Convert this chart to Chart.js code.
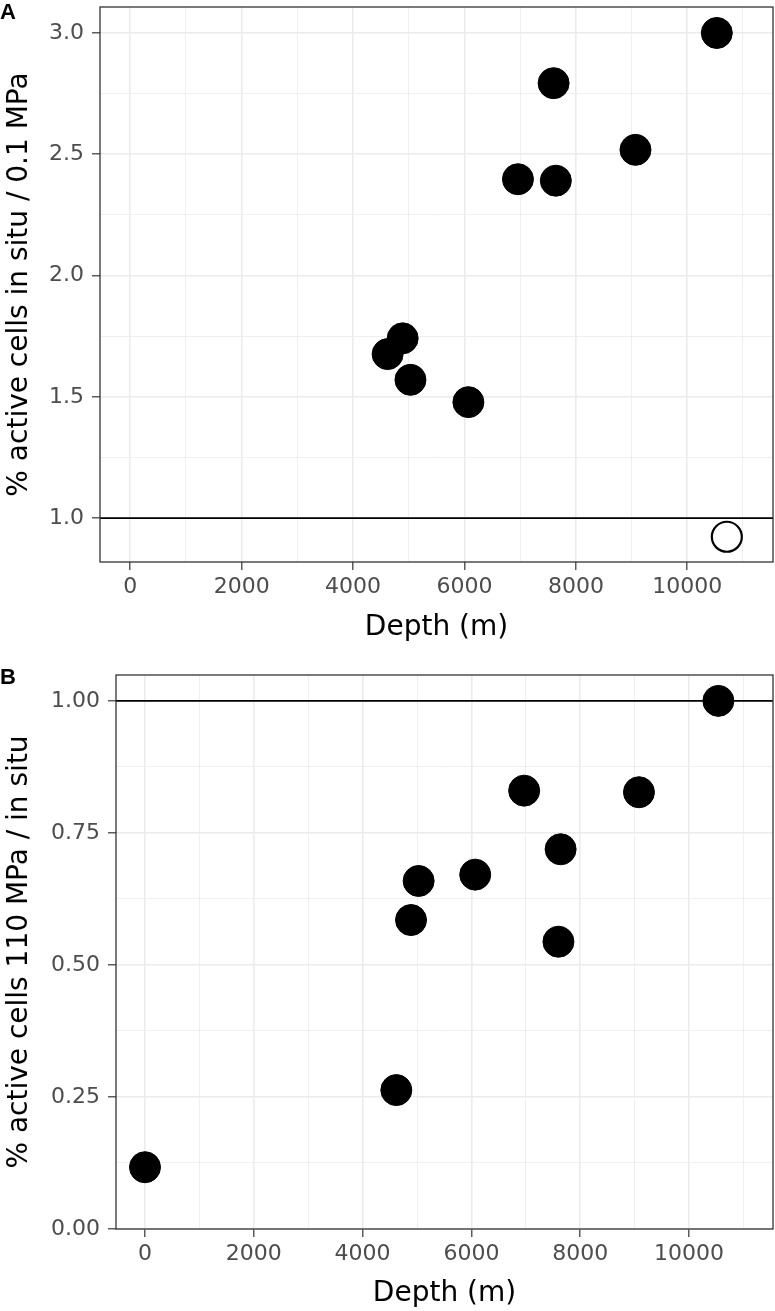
<!DOCTYPE html>
<html>
<head>
<meta charset="utf-8">
<script src="https://cdn.jsdelivr.net/npm/chart.js@4.4.0/dist/chart.umd.min.js"></script>
<style>
  body { margin: 0; background: #fff; }
  #wrap { position: relative; width: 775px; height: 1311px; }
  canvas { position: absolute; left: 0; }
  .tag { position: absolute; left: 0px; font: bold 22px "Liberation Sans", Arial, sans-serif; line-height: 22px; }
</style>
</head>
<body>
<div id="wrap">
  <canvas id="chartA" width="775" height="645" style="top:0px"></canvas>
  <canvas id="chartB" width="775" height="666" style="top:645px"></canvas>
  <div class="tag" style="top:1px">A</div>
  <div class="tag" style="top:666px">B</div>
</div>
<script>
// ---------- data ----------
// panel A : ratio in situ / 0.1 MPa
const depthA = [4620, 4890, 5030, 6070, 6960, 7600, 7640, 9070, 10530];
const ratioA = [1.676, 1.741, 1.570, 1.478, 2.397, 2.793, 2.391, 2.518, 3.0];
const depthAOpen = [10710];
const ratioAOpen = [0.923];

// panel B : ratio 110 MPa / in situ
const depthB = [0, 4620, 4890, 5030, 6070, 6970, 7600, 7640, 9080, 10540];
const ratioB = [0.117, 0.263, 0.585, 0.659, 0.671, 0.830, 0.544, 0.719, 0.827, 1.0];

// ticks (major = labelled, others = minor grid)
const xTicks = [0, 1000, 2000, 3000, 4000, 5000, 6000, 7000, 8000, 9000, 10000, 11000];
const xMajor = [0, 2000, 4000, 6000, 8000, 10000];
const yTicksA = [1.0, 1.25, 1.5, 1.75, 2.0, 2.25, 2.5, 2.75, 3.0];
const yMajorA = [1.0, 1.5, 2.0, 2.5, 3.0];
const yTicksB = [0, 0.125, 0.25, 0.375, 0.5, 0.625, 0.75, 0.875, 1.0];
const yMajorB = [0, 0.25, 0.5, 0.75, 1.0];

const refLine = 1;
const FONT = '"DejaVu Sans", Arial, sans-serif';

// ---------- plugins ----------
const hlinePlugin = {
  id: 'hline',
  beforeDatasetsDraw(chart) {
    const {ctx, chartArea, scales} = chart;
    const y = scales.y.getPixelForValue(refLine);
    ctx.save();
    ctx.strokeStyle = '#000';
    ctx.lineWidth = 1.6;
    ctx.beginPath();
    ctx.moveTo(chartArea.left, y);
    ctx.lineTo(chartArea.right, y);
    ctx.stroke();
    ctx.restore();
  }
};

const borderPlugin = {
  id: 'panelBorder',
  afterDraw(chart) {
    const {ctx, chartArea: a} = chart;
    ctx.save();
    ctx.strokeStyle = '#333';
    ctx.lineWidth = 1.3;
    ctx.strokeRect(a.left, a.top, a.right - a.left, a.bottom - a.top);
    ctx.restore();
  }
};

function axis(ticks, major, range, digits, title, boxSize, isX) {
  return {
    type: 'linear',
    min: range[0],
    max: range[1],
    afterBuildTicks: s => { s.ticks = ticks.map(v => ({value: v})); },
    afterFit: s => {
      if (isX) s.height = boxSize; else s.width = boxSize;
      s.paddingTop = s.paddingBottom = s.paddingLeft = s.paddingRight = 0;
    },
    border: {display: false},
    grid: {
      color: '#ebebeb',
      lineWidth: c => major.includes(c.tick.value) ? 1.6 : 0.8,
      drawTicks: true,
      tickLength: 8,
      tickWidth: 1.2,
      tickColor: c => major.includes(c.tick.value) ? '#333' : 'rgba(0,0,0,0)'
    },
    ticks: {
      autoSkip: false,
      maxRotation: 0,
      padding: isX ? 4 : 8,
      color: '#4d4d4d',
      font: {family: FONT, size: 22},
      callback: v => major.includes(v) ? v.toFixed(digits) : ''
    },
    title: {
      display: true,
      text: title,
      color: '#000',
      font: {family: FONT, size: 28, lineHeight: 1.2},
      padding: isX ? {top: 0, bottom: 0} : {top: 3, bottom: 0}
    }
  };
}

function makeChart(id, filled, open, cfg) {
  const datasets = [{
    data: filled,
    pointRadius: 15.5,
    pointBorderWidth: 1,
    pointBackgroundColor: '#000',
    pointBorderColor: '#000'
  }];
  if (open) {
    datasets.push({
      data: open,
      pointRadius: 15,
      pointBorderWidth: 2.2,
      pointBackgroundColor: 'rgba(255,255,255,0)',
      pointBorderColor: '#000'
    });
  }
  return new Chart(document.getElementById(id), {
    type: 'scatter',
    data: {datasets: datasets},
    options: {
      responsive: false,
      animation: false,
      devicePixelRatio: 1,
      layout: {padding: cfg.padding, autoPadding: false},
      plugins: {legend: {display: false}, tooltip: {enabled: false}},
      scales: {
        x: axis(xTicks, xMajor, cfg.xRange, 0, 'Depth (m)', cfg.xBox, true),
        y: axis(cfg.yTicks, cfg.yMajor, cfg.yRange, cfg.yDigits, cfg.yTitle, cfg.yBox, false)
      }
    },
    plugins: [hlinePlugin, borderPlugin]
  });
}

const pts = (xs, ys) => xs.map((x, i) => ({x: x, y: ys[i]}));

makeChart('chartA', pts(depthA, ratioA), pts(depthAOpen, ratioAOpen), {
  padding: {top: 7, right: 2, left: 0, bottom: 0},
  xRange: [-544, 11539],
  yRange: [0.819, 3.107],
  yTicks: yTicksA, yMajor: yMajorA, yDigits: 1,
  yTitle: '% active cells in situ / 0.1 MPa',
  xBox: 83, yBox: 100
});

makeChart('chartB', pts(depthB, ratioB), null, {
  padding: {top: 30, right: 2, left: 0, bottom: 0},
  xRange: [-533, 11544],
  yRange: [0, 1.049],
  yTicks: yTicksB, yMajor: yMajorB, yDigits: 2,
  yTitle: '% active cells 110 MPa / in situ',
  xBox: 82, yBox: 116
});
</script>
</body>
</html>
